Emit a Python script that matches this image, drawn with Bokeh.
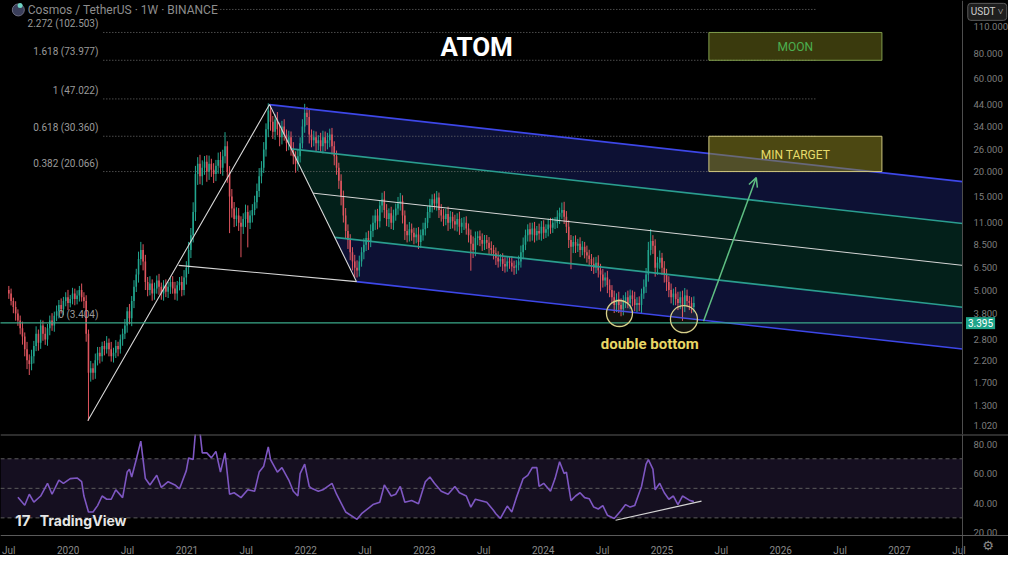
import numpy as np
from bokeh.plotting import figure
from bokeh.layouts import column
from bokeh.models import (Range1d, FixedTicker, PrintfTickFormatter, CustomJSTickFormatter,
                          ColumnDataSource, Label, Arrow, OpenHead, BoxAnnotation, Span,
                          LogAxis, LinearAxis)
from bokeh.core.properties import value
from bokeh.embed import file_html
from bokeh.resources import INLINE

# ---------------- data ----------------
first_week = 2019.5          # decimal year of first weekly candle
week_len = 7 / 365.25
first_open = 5.0
close = [
    4.8, 4.4, 4.1, 3.8, 3.5, 3.2, 2.9, 2.5, 2.2, 2.1,
    2.3, 2.6, 3.0, 2.7, 3.3, 3.0, 2.8, 3.2, 3.5, 3.3,
    3.7, 3.9, 4.2, 4.0, 4.4, 4.6, 4.3, 4.5, 4.8, 4.5,
    4.7, 5.0, 4.6, 4.4, 3.0, 1.9, 2.0, 1.9, 2.2, 2.4,
    2.3, 2.6, 2.5, 2.7, 2.5, 2.3, 2.4, 2.6, 2.5, 2.8,
    3.0, 3.3, 3.9, 3.6, 4.4, 5.2, 6.0, 7.2, 8.0, 7.0,
    5.5, 5.0, 5.4, 4.8, 5.1, 5.6, 5.2, 4.8, 5.3, 4.9,
    5.2, 5.5, 5.1, 4.8, 5.3, 5.5, 5.0, 5.8, 6.5, 8.0,
    9.5, 12.5, 19.5, 22.0, 19.0, 21.0, 22.5, 20.0, 22.0, 20.5,
    19.5, 21.5, 23.0, 21.0, 24.0, 27.0, 20.0, 15.0, 13.0, 11.5,
    12.0, 11.0, 10.5, 11.5, 12.5, 11.0, 12.0, 12.8, 14.0, 16.0,
    19.0, 21.0, 26.0, 33.0, 41.0, 36.0, 32.0, 37.0, 33.0, 30.0,
    34.0, 31.0, 28.0, 30.0, 26.0, 24.0, 22.0, 24.0, 28.0, 34.0,
    40.0, 38.0, 31.0, 29.0, 30.0, 28.0, 29.0, 27.0, 30.0, 28.0,
    29.0, 31.0, 27.0, 24.0, 21.0, 18.0, 15.0, 12.0, 10.0, 9.0,
    7.8, 7.0, 6.5, 6.3, 7.0, 7.8, 8.5, 9.2, 8.8, 10.0,
    11.0, 12.0, 11.2, 13.5, 14.5, 12.8, 11.5, 12.3, 11.0, 12.0,
    13.0, 13.8, 14.2, 12.0, 10.0, 9.5, 10.2, 9.8, 9.3, 9.6,
    8.8, 9.5, 10.2, 11.0, 12.5, 13.5, 14.5, 13.8, 14.8, 12.8,
    12.0, 11.5, 12.2, 11.0, 11.8, 11.2, 10.8, 11.5, 10.5, 11.0,
    11.0, 10.3, 9.5, 8.6, 8.0, 9.2, 9.4, 9.0, 8.6, 9.0,
    8.7, 8.2, 8.0, 7.7, 7.3, 7.0, 7.2, 6.8, 6.6, 7.0,
    6.9, 6.6, 6.5, 6.7, 7.0, 7.8, 8.5, 9.5, 10.2, 9.6,
    10.3, 9.5, 10.0, 9.7, 10.5, 9.8, 10.2, 10.8, 10.4, 11.0,
    11.0, 11.8, 12.4, 12.8, 11.8, 10.5, 9.0, 8.3, 8.8, 8.4,
    8.6, 8.0, 8.3, 7.8, 7.5, 7.2, 6.8, 6.5, 6.9, 6.3,
    6.0, 5.6, 5.8, 5.3, 5.0, 4.6, 4.2, 4.5, 4.2, 4.0,
    4.4, 4.6, 4.3, 4.7, 4.5, 4.2, 4.3, 4.2, 4.8, 5.2,
    6.0, 8.0, 8.9, 8.4, 6.5, 6.9, 7.3, 6.5, 6.0, 5.5,
    5.0, 4.6, 4.8, 4.5, 4.3, 4.6, 4.2, 4.7, 4.4, 4.3,
    4.1, 4.3,
]
wick_up_pct = [
    5, 6, 4, 7, 5, 6, 8, 5, 9, 7,   8, 6, 9, 5, 7, 6, 8, 5, 6, 9,
    5, 7, 6, 8, 5, 6, 9, 5, 7, 6,   6, 5, 8, 6, 7, 5, 9, 6, 8, 7,
    7, 5, 6, 8, 5, 9, 6, 7, 5, 6,   6, 8, 5, 9, 6, 8, 7, 9, 10, 7,
    8, 6, 9, 5, 7, 6, 8, 5, 6, 7,   6, 5, 7, 8, 5, 6, 7, 9, 8, 10,
    9, 12, 10, 8, 11, 9, 7, 8, 10, 6, 8, 7, 9, 10, 8, 18, 6, 7, 9, 8,
    10, 9, 8, 7, 9, 8, 6, 7, 8, 9,  10, 8, 9, 7, 9, 8, 7, 6, 9, 8,
    7, 9, 6, 8, 7, 9, 6, 8, 7, 9,   11, 7, 9, 6, 8, 7, 6, 9, 8, 7,
    9, 7, 8, 6, 7, 6, 8, 7, 9, 8,   7, 6, 8, 9, 7, 6, 8, 7, 9, 8,
    9, 7, 8, 6, 8, 10, 7, 6, 8, 7,  6, 8, 10, 7, 6, 8, 9, 7, 6, 8,
    9, 7, 8, 6, 7, 8, 6, 7, 8, 6,   7, 8, 6, 9, 7, 6, 8, 7, 9, 6,
    7, 8, 6, 7, 9, 8, 6, 7, 8, 6,   6, 7, 8, 6, 7, 8, 6, 7, 8, 6,
    6, 8, 7, 6, 7, 8, 9, 7, 6, 8,   7, 8, 6, 9, 7, 8, 6, 7, 8, 6,
    7, 8, 6, 9, 10, 7, 8, 6, 7, 8,  6, 8, 7, 6, 8, 7, 6, 8, 7, 9,
    8, 7, 6, 8, 7, 6, 8, 7, 9, 8,   7, 6, 8, 7, 6, 9, 7, 8, 6, 9,
    8, 10, 15, 7, 8, 7, 9, 6, 8, 7, 7, 8, 6, 8, 9, 7, 8, 9, 7, 6,
    7, 8,
]
wick_dn_pct = [
    6, 5, 7, 8, 6, 7, 9, 8, 10, 12, 7, 8, 6, 9, 7, 8, 6, 7, 8, 6,
    7, 6, 8, 5, 7, 6, 8, 5, 6, 7,   6, 7, 5, 8, 9, 43, 10, 8, 7, 6,
    8, 6, 7, 5, 8, 6, 7, 6, 8, 5,   7, 6, 8, 7, 9, 8, 6, 9, 7, 10,
    9, 7, 6, 8, 7, 6, 9, 7, 8, 6,   7, 8, 6, 7, 8, 6, 7, 6, 8, 7,
    9, 8, 10, 12, 9, 10, 8, 11, 9, 8, 10, 8, 9, 7, 9, 8, 12, 35, 10, 9,
    8, 9, 30, 8, 9, 25, 7, 8, 6, 7, 7, 8, 6, 8, 9, 10, 8, 9, 7, 10,
    8, 7, 9, 8, 7, 9, 10, 8, 7, 6,  7, 9, 10, 8, 7, 9, 8, 7, 8, 9,
    7, 8, 9, 10, 8, 9, 10, 8, 9, 10, 9, 10, 11, 8, 7, 6, 8, 7, 9, 6,
    7, 8, 9, 7, 8, 9, 8, 9, 7, 8,   6, 7, 8, 9, 10, 8, 7, 9, 8, 7,
    8, 7, 6, 7, 6, 7, 8, 7, 8, 9,   7, 8, 7, 9, 7, 8, 7, 8, 9, 7,
    8, 7, 8, 27, 9, 7, 8, 7, 8, 7,  7, 8, 6, 7, 8, 7, 6, 8, 7, 6,
    7, 6, 8, 7, 6, 7, 8, 6, 7, 8,   7, 8, 6, 7, 8, 7, 6, 8, 7, 6,
    7, 6, 8, 7, 8, 7, 9, 23, 7, 8,  7, 8, 6, 7, 8, 7, 8, 7, 6, 8,
    18, 8, 7, 9, 8, 7, 9, 8, 9, 8,  7, 8, 6, 7, 8, 7, 8, 7, 9, 6,
    7, 8, 6, 9, 10, 8, 7, 8, 9, 10, 8, 7, 9, 7, 8, 7, 17, 8, 7, 8,
    7, 6,
]
rsi_week = [4, 7, 9, 11, 14, 17, 19, 22, 24, 27, 30, 32, 33, 35, 37, 39, 41, 43, 45, 47,
            50, 52, 53, 54, 56, 58, 60, 62, 65, 67, 70, 73, 75, 78, 79, 81, 82, 84, 85, 87,
            89, 91, 93, 95, 97, 99, 102, 105, 108, 110, 112, 114, 115, 118, 120, 123, 125,
            127, 128, 130, 132, 133, 136, 138, 142, 144, 148, 153, 155, 160, 163, 165, 168,
            170, 172, 174, 177, 180, 183, 185, 187, 190, 193, 196, 198, 201, 203, 205, 210,
            213, 214, 216, 219, 221, 223, 226, 228, 230, 232, 233, 235, 238, 240, 242, 244,
            245, 247, 249, 251, 253, 255, 257, 259, 261, 263, 266, 269, 271, 273, 275, 277,
            278, 280, 281, 283, 284, 286, 288, 290, 292, 294, 296, 299, 301]
rsi_value = [44, 38.5, 46, 40.6, 44.8, 53.4, 46, 55.6, 53.4, 56.6, 57, 54.5, 44.8, 34, 34,
             38.3, 44.8, 42.6, 42.6, 49, 43.7, 61, 63, 57.7, 69.5, 82, 56.6, 52.3, 58.8, 50.6,
             54.5, 52.3, 49.7, 62, 70.6, 69.5, 88, 88, 74, 74, 70.6, 75, 61, 74, 46, 47, 43.7,
             49, 48, 61, 65, 78, 69.5, 61, 64, 55.6, 48, 44.8, 60, 66.4, 51.3, 50, 48, 49,
             53.4, 46, 34, 29, 32.8, 39, 40.6, 52.3, 44.8, 46, 51.3, 40.6, 41.7, 39.6, 54.5,
             57.7, 53.4, 48, 46, 51.3, 47, 44.8, 37.3, 42.6, 40.6, 35, 32.8, 29.6, 38, 34,
             43.7, 56.6, 58.8, 64, 64, 51.3, 53.4, 48, 56.6, 68, 60, 61, 41.7, 44.8, 47, 43.7,
             43, 37.3, 36, 38.3, 31.8, 29.6, 35, 39, 37.3, 38.3, 47, 51.3, 66.4, 69.5, 63, 49,
             53.4, 47, 42.6, 44.8, 39, 44.8, 42, 41]
price_ticks = [110, 80, 60, 44, 34, 26, 20, 15, 11, 8.5, 6.5, 5.0, 3.8, 2.8, 2.2, 1.7, 1.3, 1.02]
rsi_ticks = [20, 40, 60, 80]
rsi_levels = [70, 50, 30]
time_ticks = [2019.5, 2020, 2020.5, 2021, 2021.5, 2022, 2022.5, 2023, 2023.5,
              2024, 2024.5, 2025, 2025.5, 2026, 2026.5, 2027, 2027.5]
fib_ratio = ["0", "0.382", "0.618", "1", "1.618", "2.272"]
fib_price = [3.404, 20.066, 30.360, 47.022, 73.977, 102.503]
fib_top_price = 134.26
fib_span_t = [2020.296, 2026.296]
fib_label_t = 2020.255
zigzag_t = [2020.165, 2021.695, 2022.428]
zigzag_p = [1.08, 44.0, 5.52]
base_t = [2020.93, 2022.428]
base_p = [6.68, 5.52]
channel_edge_t, channel_edge_p = 2027.52, 17.86
channel_fracs = [0.0, 0.25, 0.5, 0.75, 1.0]
moon_box = dict(left=2025.395, right=2026.852, bottom=73.977, top=102.503)
target_box = dict(left=2025.395, right=2026.852, bottom=20.066, top=30.360)
arrow_t = [2025.35, 2025.794]
arrow_p = [3.475, 18.7]
bottom_t = [2024.642, 2025.185]
bottom_p = [3.80, 3.555]
last_price = 3.395
rsi_trend_t = [2024.609, 2025.333]
rsi_trend_v = [28.4, 41.3]

# ---------------- styling / layout ----------------
BG = "#000000"
UP, DOWN = "#22a68f", "#e0555f"
BLUE, TEAL, WHITE = "#3d47e8", "#2a9d8f", "#d6d6d6"
NAVY_FILL, GREEN_FILL = "#0d1134", "#03201a"
AX = "#7d7d7d"
SEP_C = "#4d4d4d"
FONT = "Roboto"
W = 1008
MAIN_H, RSI_H = 434, 121
SEP_T = 2027.531          # time where the price-scale column begins
RSI_FLOOR = 18.06         # RSI value where the time-axis strip begins

xr = Range1d(2019.43, 2027.918)


def base_fig(h, yr, **kw):
    f = figure(frame_width=W, frame_height=h, x_range=xr, y_range=yr,
               x_axis_location=None, y_axis_location=None, toolbar_location=None,
               output_backend="svg", background_fill_color=BG, border_fill_color=BG,
               outline_line_color=None, min_border=0, **kw)
    f.grid.visible = False
    return f


def style_axis(a, size="9.5px", standoff=5):
    a.major_tick_line_color = None
    a.minor_tick_line_color = None
    a.major_label_text_color = AX
    a.major_label_text_font = FONT
    a.major_label_text_font_size = size
    a.major_label_standoff = standoff


p = base_fig(MAIN_H, Range1d(0.92, 149.1), y_axis_type="log")

# price scale (drawn at the column separator)
pa = LogAxis(fixed_location=SEP_T, ticker=FixedTicker(ticks=price_ticks),
             formatter=PrintfTickFormatter(format="%.3f"), axis_line_color=SEP_C)
style_axis(pa)
p.add_layout(pa, "right")

# channel geometry (log-price space)
ta, tb = zigzag_t[1], zigzag_t[2]
la, lb = np.log10(zigzag_p[1]), np.log10(zigzag_p[2])
slope = (np.log10(channel_edge_p) - la) / (channel_edge_t - ta)


def ch_line(f):
    ts, ls = ta + f * (tb - ta), la + f * (lb - la)
    return [ts, SEP_T], [10 ** ls, 10 ** (ls + slope * (SEP_T - ts))]


for fa, fb, colr in [(0.0, 0.25, NAVY_FILL), (0.25, 0.75, GREEN_FILL), (0.75, 1.0, NAVY_FILL)]:
    xa, ya_ = ch_line(fa)
    xb, yb = ch_line(fb)
    p.patch([xa[0], xa[1], xb[1], xb[0]], [ya_[0], ya_[1], yb[1], yb[0]],
            fill_color=colr, line_color=None)

# fib dotted levels
for pr in fib_price[1:] + [fib_top_price]:
    p.line(fib_span_t, [pr, pr], line_color="#707070", line_dash="1 2", line_width=1)

# candles
n = min(len(close), len(wick_up_pct), len(wick_dn_pct))
c = np.array(close[:n], dtype=float)
o = np.r_[first_open, c[:-1]]
t = first_week + np.arange(n) * week_len
hi = np.maximum(o, c) * (1 + np.array(wick_up_pct[:n]) / 100.0)
lo = np.minimum(o, c) * (1 - np.array(wick_dn_pct[:n]) / 100.0)
colors = np.where(c >= o, UP, DOWN)
src = ColumnDataSource(dict(t=t, hi=hi, lo=lo, top=np.maximum(o, c), bot=np.minimum(o, c), col=colors))
p.segment(x0="t", y0="lo", x1="t", y1="hi", line_color="col", line_width=1, source=src)
p.vbar(x="t", width=week_len * 0.68, top="top", bottom="bot", fill_color="col", line_color=None, source=src)

# channel lines
for f in channel_fracs:
    xs, ys = ch_line(f)
    if f in (0.0, 1.0):
        p.line(xs, ys, line_color=BLUE, line_width=1.6)
    elif f == 0.5:
        p.line(xs, ys, line_color=WHITE, line_width=1)
    else:
        p.line(xs, ys, line_color=TEAL, line_width=1.6)

# zigzag + base
p.line(zigzag_t, zigzag_p, line_color=WHITE, line_width=1.1)
p.line(base_t, base_p, line_color=WHITE, line_width=1.1)

# level 0 line (solid)
p.line([xr.start - 1, SEP_T], [fib_price[0]] * 2, line_color="#3aa88a", line_width=1.4)

# boxes
p.quad(**moon_box, fill_color="#74741a", fill_alpha=0.5, line_color="#7f9c4c", line_width=1)
p.quad(**target_box, fill_color="#8a8420", fill_alpha=0.55, line_color="#cfc77f", line_width=1)
p.add_layout(Label(x=(moon_box["left"] + moon_box["right"]) / 2, y=86.7, text="MOON",
                   text_align="center", text_baseline="middle", text_color="#4caf50",
                   text_font=FONT, text_font_size="12px"))
p.add_layout(Label(x=(target_box["left"] + target_box["right"]) / 2, y=24.5, text="MIN TARGET",
                   text_align="center", text_baseline="middle", text_color="#e6dc6c",
                   text_font=FONT, text_font_size="12px"))

# arrow
p.add_layout(Arrow(end=OpenHead(size=9, line_color="#5fbf83", line_width=1.5),
                   x_start=arrow_t[0], y_start=arrow_p[0], x_end=arrow_t[1], y_end=arrow_p[1],
                   line_color="#5fbf83", line_width=1.5))

# double bottom circles
p.scatter(bottom_t, bottom_p, size=[26, 27], marker="circle", fill_color="#d8d08a", fill_alpha=0.08,
          line_color="#d8d08a", line_width=1.3)
p.add_layout(Label(x=2024.897, y=2.65, text="double bottom", text_align="center",
                   text_baseline="middle", text_color="#e8d765", text_font=FONT,
                   text_font_size="15px", text_font_style="bold"))

# fib labels
fsrc = ColumnDataSource(dict(x=[fib_label_t] * len(fib_price), y=fib_price,
                             txt=[f"{r} ({v:.3f})" for r, v in zip(fib_ratio, fib_price)]))
p.text(x="x", y="y", text="txt", source=fsrc, text_align="right", text_baseline="bottom",
       y_offset=-3, text_color="#9a9a9a", text_font=value(FONT), text_font_size="10px")

# title and header
p.add_layout(Label(x=2023.44, y=86.7, text="ATOM", text_align="center", text_baseline="middle",
                   text_color="#ffffff", text_font=FONT, text_font_size="26px", text_font_style="bold"))
p.add_layout(Label(x=2019.66, y=133.5, text="Cosmos / TetherUS · 1W · BINANCE",
                   text_baseline="middle", text_color="#8d8d8d", text_font=FONT,
                   text_font_size="12px", background_fill_color=BG))
p.scatter([2019.58], [133.5], size=12, marker="circle", fill_color="#3a3e5a", line_color="#6c6c80")
p.scatter([2019.595], [140.5], size=5, marker="circle", fill_color="#6fd3c4", line_color=None)

# price-scale extras
p.add_layout(Label(x=2027.575, y=130.5, text="USDT ˅", text_baseline="middle",
                   text_color="#d0d0d0", text_font=FONT, text_font_size="10px",
                   background_fill_color="#1e1e1e", border_line_color="#5a5a5a",
                   padding=3, border_radius=3))
p.add_layout(Label(x=2027.56, y=last_price, text=f"{last_price:.3f}", text_baseline="middle",
                   text_color="#ffffff", text_font=FONT, text_font_size="10px",
                   background_fill_color="#1fa58a", padding=2))

# ---------------- RSI pane (+ time strip) ----------------
r = base_fig(RSI_H, Range1d(4.52, 86.45))
r.add_layout(BoxAnnotation(bottom=30, top=70, right=SEP_T, fill_color="#150f20", fill_alpha=1,
                           line_color=None, level="underlay"))
for lv in rsi_levels:
    r.line([xr.start, SEP_T], [lv, lv], line_color="#5c5c5c", line_dash="4 3", line_width=1)
r.add_layout(Span(location=86.45, dimension="width", line_color="#5a5a5a", line_width=2))
r.add_layout(Span(location=RSI_FLOOR, dimension="width", line_color="#5a5a5a", line_width=1))
rsi_t = [first_week + w * week_len for w in rsi_week]
r.line(rsi_t, rsi_value, line_color="#7e57c2", line_width=1.6)
r.line(rsi_trend_t, rsi_trend_v, line_color="#d6d6d6", line_width=1.2)

ra = LinearAxis(fixed_location=SEP_T, ticker=FixedTicker(ticks=rsi_ticks),
                formatter=PrintfTickFormatter(format="%.2f"), axis_line_color=SEP_C)
style_axis(ra)
r.add_layout(ra, "right")

ta_ = LinearAxis(fixed_location=RSI_FLOOR, ticker=FixedTicker(ticks=time_ticks),
                 formatter=CustomJSTickFormatter(code="""
const y = Math.round(tick);
return (Math.abs(tick - y) < 0.01) ? String(y) : "Jul";
"""), axis_line_color=None)
style_axis(ta_, size="10px", standoff=3)
ta_.major_label_text_color = "#8a8a8a"
r.add_layout(ta_, "below")

r.add_layout(Label(x=2019.555, y=28.4, text="17", text_baseline="middle", text_color="#e6e6e6",
                   text_font="Inter", text_font_size="15px", text_font_style="bold"))
r.add_layout(Label(x=2019.761, y=28.4, text="TradingView", text_baseline="middle",
                   text_color="#e6e6e6", text_font="Inter", text_font_size="14px",
                   text_font_style="bold"))
r.add_layout(Label(x=2027.745, y=11.6, text="⚙", text_align="center", text_baseline="middle",
                   text_color="#8a8a8a", text_font="DejaVu Sans", text_font_size="13px"))

layout = column(p, r, spacing=0, styles={"background-color": BG})
open("out.html", "w").write(file_html(layout, INLINE))
